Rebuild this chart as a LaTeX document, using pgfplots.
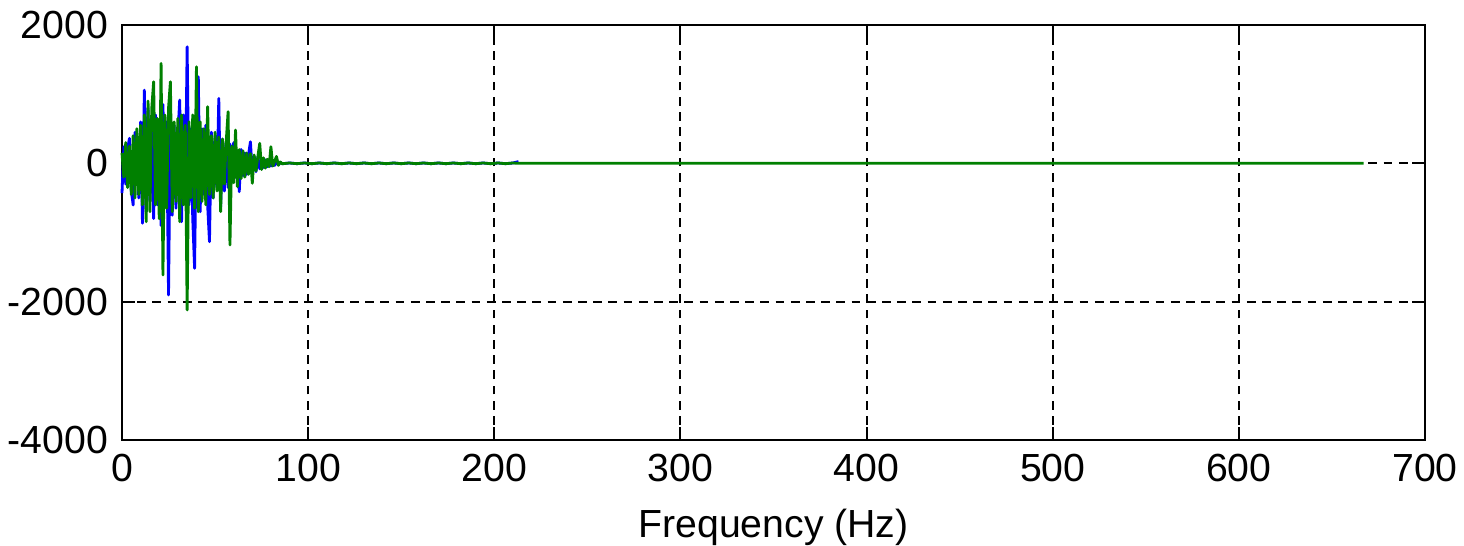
\documentclass[border=0pt]{standalone}
\usepackage{fontspec}
\setmainfont{Liberation Sans}
\usepackage{pgfplots}
\pgfplotsset{compat=1.18}
\definecolor{mblue}{RGB}{0,0,255}
\definecolor{mgreen}{RGB}{0,128,0}
\begin{document}
\begin{tikzpicture}
\begin{axis}[
  scale only axis,
  width=325.75pt, height=103.75pt,
  xmin=0, xmax=700, ymin=-4000, ymax=2000,
  xtick={0,100,200,300,400,500,600,700},
  xticklabels={0,100,200,300,400,500,600,700},
  ytick={-4000,-2000,0,2000},
  yticklabels={-4000,-2000,0,2000},
  tick align=inside,
  major tick length=3.25pt,
  tick style={black, line width=0.5pt},
  axis line style={black, line width=0.55pt},
  grid=major,
  major grid style={black, line width=0.5pt, dash pattern=on 2.2pt off 1.6pt},
  ticklabel style={font=\fontsize{9.8}{11}\selectfont},
  xlabel={Frequency (Hz)},
  xlabel style={font=\fontsize{9.8}{11}\selectfont},
  clip=false,
]
\coordinate (nw) at (rel axis cs:0,1);
\coordinate (se) at (rel axis cs:1,0);
\addplot[mblue, line width=0.7pt, line join=round] coordinates {
(0,-430)(1,240)(2,-300)(3,200)(4,361)(5,-400)(6,-603)(7,450)(8,300)(9,-500)
(10,600)(11,-867)(12,1059)(13,-700)(14,800)(15,-550)(16,650)(17,-800)(18,700)(19,-600)
(20,500)(21,-900)(22,850)(23,-450)(24,600)(25,-1903)(26,700)(27,-750)(28,550)(29,-650)
(30,400)(31,915)(32,-844)(33,700)(34,-500)(35,1685)(36,-600)(37,500)(38,-800)(39,-1517)
(40,600)(41,1251)(42,-700)(43,500)(44,-450)(45,550)(46,-600)(47,-1133)(48,450)(49,-500)
(50,400)(51,-350)(52,939)(53,-627)(54,350)(55,-400)(56,300)(57,-350)(58,280)(59,-250)
(60,300)(61,-200)(62,180)(63,-410)(64,200)(65,-180)(66,150)(67,-160)(68,130)(69,312)
(70,-140)(71,100)(72,-120)(73,90)(74,-80)(75,70)(76,-60)(77,50)(78,-50)(79,40)
(80,-40)(81,30)(82,-30)(83,25)(84,-20)(85,15)
(86,-6)(90,5)(94,-5)(98,5)(102,-5)(106,5)(110,-5)(114,5)(118,-5)(122,5)
(126,-5)(130,5)(134,-5)(138,5)(142,-5)(146,5)(150,-5)(154,5)(158,-5)(162,5)
(166,-5)(170,5)(174,-5)(178,5)(182,-5)(186,5)(190,-5)(194,5)(198,-5)(202,5)
(206,-5)(210,5)(213,25)
};
\addplot[mgreen, line width=0.7pt, line join=round] coordinates {
(0,150)(1,-200)(2,300)(3,-350)(4,250)(5,-450)(6,400)(7,-500)(8,500)(9,-450)
(10,550)(11,-600)(12,700)(13,-844)(14,900)(15,-700)(16,800)(17,1179)(18,-600)(19,650)
(20,-800)(21,1445)(22,-1614)(23,700)(24,-650)(25,800)(26,1179)(27,-700)(28,600)(29,-550)
(30,650)(31,-844)(32,700)(33,-600)(34,550)(35,-2120)(36,600)(37,-500)(38,700)(39,-650)
(40,1396)(41,-700)(42,600)(43,-550)(44,500)(45,-600)(46,818)(47,-450)(48,400)(49,-500)
(50,450)(51,-400)(52,380)(53,-699)(54,350)(55,-300)(56,320)(57,746)(58,-1181)(59,250)
(60,-280)(61,481)(62,-338)(63,200)(64,-220)(65,180)(66,-200)(67,150)(68,-160)(69,140)
(70,-289)(71,120)(72,-110)(73,100)(74,289)(75,-90)(76,80)(77,-70)(78,60)(79,-50)
(80,240)(81,-40)(82,30)(83,100)(84,-30)(85,20)
(86,-6)(90,5)(94,-5)(98,5)(102,-5)(106,5)(110,-5)(114,5)(118,-5)(122,5)
(126,-5)(130,5)(134,-5)(138,5)(142,-5)(146,5)(150,-5)(154,5)(158,-5)(162,5)
(166,-5)(170,5)(174,-5)(178,5)(182,-5)(186,5)(190,-5)(194,5)(198,-5)(202,5)
(206,-5)(210,5)(213,0)(667,0)
};
\end{axis}
\pgfresetboundingbox
\useasboundingbox ([shift={(-30.5pt,6.25pt)}]nw) rectangle ([shift={(9.75pt,-26.25pt)}]se);
\end{tikzpicture}
\end{document}
